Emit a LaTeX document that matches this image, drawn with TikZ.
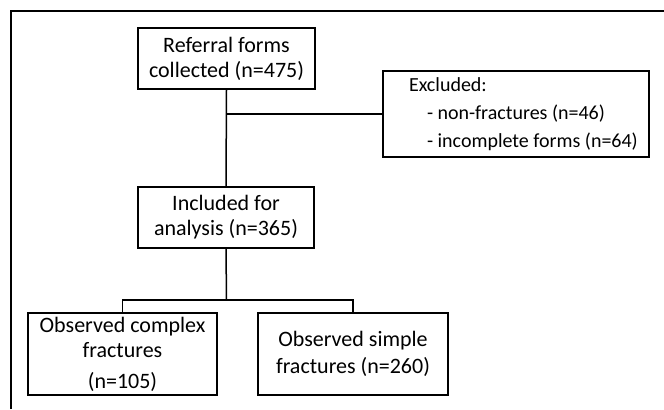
\documentclass[tikz,border=0pt]{standalone}
\usepackage{fontspec}
\setmainfont{Carlito}
\usetikzlibrary{positioning}
\newcommand{\exline}[2]{\makebox[133pt][l]{\hspace*{#1}#2}}
\tikzset{
  flowbox/.style={draw, line width=0.75pt, align=center, inner sep=0pt,
    font=\fontsize{11}{12.5}\selectfont},
  flowline/.style={line width=0.75pt}
}

\begin{document}
\begin{tikzpicture}[x=0.5pt, y=-0.5pt]
  \useasboundingbox (0,0) rectangle (664,409);
  % Outer frame
  \draw[line width=1.3pt] (11,409) -- (11,11) -- (664,11);
  % Boxes
  \node[flowbox, minimum width=88.5pt, minimum height=30.5pt] (referral)
    at (226.5,58.5) {Referral forms\\collected (n=475)};
  \node[flowbox, minimum width=133pt, minimum height=43pt, align=left,
    font=\fontsize{10}{14}\selectfont] (excluded)
    at (516,114) {\exline{13pt}{Excluded:}\\
      \exline{22pt}{- non-fractures (n=46)}\\
      \exline{22pt}{- incomplete forms (n=64)}};
  \node[flowbox, minimum width=88pt, minimum height=30.5pt] (included)
    at (226,217.5) {Included for\\analysis (n=365)};
  \node[flowbox, minimum width=94.5pt, minimum height=41pt] (complex)
    at (122.5,354) {Observed complex\\fractures\\[3pt](n=105)};
  \node[flowbox, minimum width=95pt, minimum height=41pt,
    font=\fontsize{11}{13.5}\selectfont] (simple)
    at (353,354) {Observed simple\\fractures (n=260)};
  % Connectors
  \coordinate (branch) at (referral.south |- excluded.west);
  \coordinate (split) at (226.5,300);
  \draw[flowline] (referral.south) -- (included.north);
  \draw[flowline] (branch) -- (excluded.west);
  \draw[flowline] (included.south) -- (split);
  \draw[flowline] (split) -| (complex.north);
  \draw[flowline] (split) -| (simple.north);
\end{tikzpicture}
\end{document}
